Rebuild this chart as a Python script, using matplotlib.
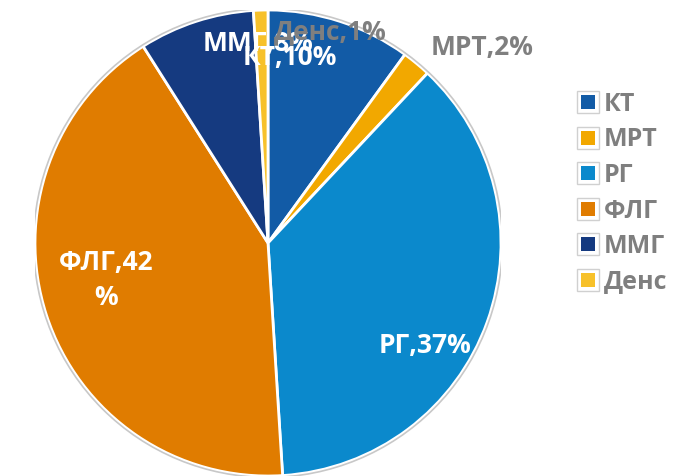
import matplotlib
matplotlib.use("Agg")
import matplotlib.pyplot as plt
from matplotlib.patches import Circle
from matplotlib.lines import Line2D
from matplotlib.legend_handler import HandlerTuple

categories = ["КТ", "МРТ", "РГ", "ФЛГ", "ММГ", "Денс"]
values = [10, 2, 37, 42, 8, 1]
label_texts = ["КТ,10%", "МРТ,2%", "РГ,37%", "ФЛГ,42\n%", "ММГ,8%", "Денс,1%"]

colors = ["#125BA6", "#F2A800", "#0B89CC", "#E07C00", "#153A80", "#F7C12A"]
label_colors = ["white", "#7F7F7F", "white", "white", "white", "#7F7F7F"]
label_pos = [(0.094, 0.798), (0.918, 0.841), (0.674, -0.442), (-0.695, -0.159), (-0.043, 0.858), (0.266, 0.906)]
label_z = [7, 5, 5, 5, 5, 6]

plt.rcParams['font.family'] = ['Open Sans', 'DejaVu Sans']

fig = plt.figure(figsize=(6.89, 4.76), dpi=100)
ax = fig.add_axes([35/689, 0, 466/689, 466/476])
wedges, _ = ax.pie(values, colors=colors, startangle=90, counterclock=False,
                   radius=1.0, wedgeprops=dict(edgecolor="white", linewidth=2))
ax.add_patch(Circle((0, 0), 1.006, fill=False, edgecolor="#C8C8C8", linewidth=1.2))
ax.set_xlim(-1, 1)
ax.set_ylim(-1, 1)
ax.set_aspect("auto")
ax.axis("off")

for txt, (x, y), c, z in zip(label_texts, label_pos, label_colors, label_z):
    ax.text(x, y, txt, ha="center", va="center", color=c, fontsize=19,
            fontweight="bold", zorder=z, linespacing=1.35)

handles = []
for col in colors:
    outer = Line2D([], [], marker="s", linestyle="none", markersize=15.5,
                   markerfacecolor="white", markeredgecolor="#D0D0D0", markeredgewidth=1.0)
    inner = Line2D([], [], marker="s", linestyle="none", markersize=10.5,
                   markerfacecolor=col, markeredgecolor=col, markeredgewidth=0)
    handles.append((outer, inner))
leg = fig.legend(handles, categories, loc="upper left", bbox_to_anchor=(565/689, 1 - 82/476),
                 frameon=False, handlelength=1.0, handletextpad=0.15, borderaxespad=0,
                 labelspacing=0.42, prop=dict(size=18, weight="bold"),
                 handler_map={tuple: HandlerTuple(ndivide=1, pad=0)})
for t in leg.get_texts():
    t.set_color("#7F7F7F")

fig.savefig("out.png", dpi=100)
